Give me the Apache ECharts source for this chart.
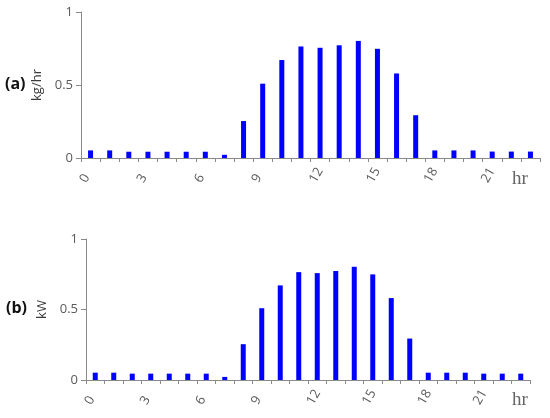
<!DOCTYPE html>
<html>
<head>
<meta charset="utf-8">
<script src="https://cdn.jsdelivr.net/npm/echarts@6/dist/echarts.min.js"></script>
<style>html,body{margin:0;padding:0;background:#fff}#c{width:550px;height:418px}</style>
</head>
<body>
<div id="c"></div>
<script>
const hours = [0,1,2,3,4,5,6,7,8,9,10,11,12,13,14,15,16,17,18,19,20,21,22,23];
const massFlow = [0.052,0.052,0.043,0.043,0.043,0.043,0.043,0.022,0.253,0.509,0.671,0.764,0.755,0.772,0.802,0.748,0.579,0.293,0.052,0.052,0.052,0.044,0.044,0.044];
const power = [0.052,0.052,0.045,0.045,0.045,0.045,0.045,0.022,0.254,0.509,0.671,0.765,0.758,0.773,0.803,0.749,0.581,0.294,0.052,0.052,0.052,0.045,0.045,0.045];
const xTickLabels = ['0','3','6','9','12','15','18','21'];
const yTickLabels = ['0','0.5','1'];

const chart = echarts.init(document.getElementById('c'), null, {renderer: 'canvas'});
const axisGray = '#8a8a8a';
const labelGray = '#5a5a5a';
const sans = '"Open Sans", "Noto Sans", sans-serif';

function xAxisCfg(gi) {
  return {
    type: 'value', gridIndex: gi, min: 0, max: 24, interval: 3,
    axisLine: {show: true, lineStyle: {color: axisGray, width: 1}},
    axisTick: {show: true, length: 4, lineStyle: {color: axisGray}},
    minorTick: {show: true, splitNumber: 3, length: 4, lineStyle: {color: axisGray}},
    splitLine: {show: false},
    axisLabel: {
      rotate: 60, align: 'left', verticalAlign: 'middle', margin: 27,
      padding: [0, 0, 0, 4],
      color: labelGray, fontFamily: sans, fontSize: 13,
      formatter: v => xTickLabels.includes(String(v)) ? String(v) : ''
    }
  };
}
function yAxisCfg(gi, name, gap) {
  return {
    type: 'value', gridIndex: gi, min: 0, max: 1, interval: 0.5,
    name: name, nameLocation: 'middle', nameRotate: 90, nameGap: gap,
    nameTextStyle: {color: '#3a3a3a', fontFamily: sans, fontSize: 13},
    axisLine: {show: true, lineStyle: {color: axisGray, width: 1}},
    axisTick: {show: true, length: 5, lineStyle: {color: axisGray}},
    splitLine: {show: false},
    axisLabel: {
      margin: 8, color: labelGray, fontFamily: sans, fontSize: 13,
      formatter: v => yTickLabels[Math.round(v * 2)]
    }
  };
}

chart.setOption({
  animation: false,
  grid: [
    {left: 81, right: 10, top: 12, height: 146},
    {left: 86, right: 20, top: 239, height: 141}
  ],
  xAxis: [xAxisCfg(0), xAxisCfg(1)],
  yAxis: [yAxisCfg(0, 'kg/hr', 36), yAxisCfg(1, 'kW', 36)],
  series: [
    {type: 'bar', xAxisIndex: 0, yAxisIndex: 0, barWidth: 5,
     itemStyle: {color: '#0000ff'},
     data: hours.map((h, i) => [h + 0.5, massFlow[i]])},
    {type: 'bar', xAxisIndex: 1, yAxisIndex: 1, barWidth: 5,
     itemStyle: {color: '#0000ff'},
     data: hours.map((h, i) => [h + 0.5, power[i]])}
  ],
  graphic: [
    {type: 'text', left: 5, top: 76, style: {text: '(a)', fill: '#111', font: 'bold 16px "Open Sans", sans-serif'}},
    {type: 'text', left: 6, top: 300, style: {text: '(b)', fill: '#111', font: 'bold 16px "Open Sans", sans-serif'}},
    {type: 'text', left: 512, top: 170, style: {text: 'hr', fill: '#666', font: '19px "Liberation Serif", serif'}},
    {type: 'text', left: 512, top: 391, style: {text: 'hr', fill: '#666', font: '19px "Liberation Serif", serif'}}
  ]
});
</script>
</body>
</html>
